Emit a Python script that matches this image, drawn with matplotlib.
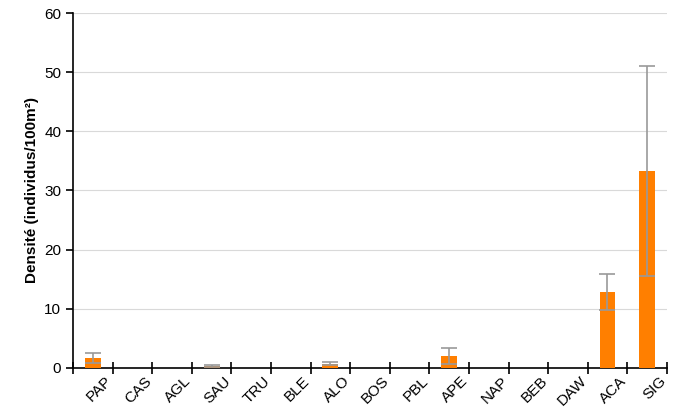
import numpy as np
import matplotlib
matplotlib.use('Agg')
import matplotlib.pyplot as plt

plt.rcParams['font.family'] = ['Liberation Sans', 'DejaVu Sans']

# Données
especes = ['PAP', 'CAS', 'AGL', 'SAU', 'TRU', 'BLE', 'ALO', 'BOS', 'PBL', 'APE',
           'NAP', 'BEB', 'DAW', 'ACA', 'SIG']
densite = [1.7, 0, 0, 0.3, 0, 0, 0.7, 0, 0, 2.0, 0, 0, 0, 12.8, 33.3]
erreur = [0.8, 0, 0, 0.15, 0, 0, 0.25, 0, 0, 1.4, 0, 0, 0, 3.0, 17.8]

x = np.arange(len(especes))

fig = plt.figure(figsize=(6.77, 4.07), dpi=100)
ax = fig.add_axes([0.108, 0.096, 0.877, 0.872])

ax.bar(x, densite, width=0.4, color='#FF7F00', zorder=3)
err_x = [xi for xi, e in zip(x, erreur) if e > 0]
err_y = [d for d, e in zip(densite, erreur) if e > 0]
err_e = [e for e in erreur if e > 0]
ax.errorbar(err_x, err_y, yerr=err_e, fmt='none', ecolor='#999999',
            elinewidth=1.2, capsize=6, capthick=1.2, zorder=4)

ax.set_xlim(-0.5, len(especes) - 0.5)
ax.set_ylim(0, 60)
ax.set_yticks(np.arange(0, 61, 10))
ax.yaxis.grid(True, color='#d9d9d9', linewidth=0.8, zorder=0)
ax.set_axisbelow(True)

# ticks aux limites des catégories
ax.set_xticks(np.arange(-0.5, len(especes)), minor=False)
ax.set_xticklabels([])
ax.tick_params(axis='x', direction='inout', length=8, width=1.2)
ax.tick_params(axis='y', direction='out', length=5, width=1.2, labelsize=11)
for xi, lab in zip(x, especes):
    ax.text(xi + 0.3, -1.0, lab, rotation=45, ha='right', va='top',
            rotation_mode='anchor', fontsize=11, transform=ax.transData,
            clip_on=False)

for s in ['top', 'right']:
    ax.spines[s].set_visible(False)
ax.spines['left'].set_linewidth(1.2)
ax.spines['bottom'].set_linewidth(1.2)

ax.set_ylabel('Densité (individus/100m²)', fontsize=11, fontweight='bold')

plt.savefig('out.png', dpi=100)
